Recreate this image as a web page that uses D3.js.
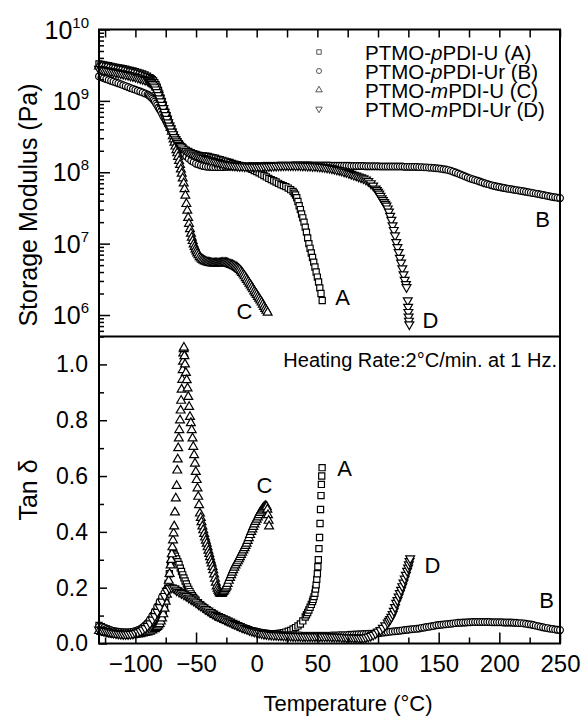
<!DOCTYPE html>
<html>
<head>
<meta charset="utf-8">
<script src="https://cdn.jsdelivr.net/npm/d3@7"></script>
<style>
  body { margin: 0; background: #fff; }
  svg { display: block; font-family: "Liberation Sans", Arial, sans-serif; }
</style>
</head>
<body>
<svg id="chart" width="581" height="716"></svg>
<script>
/* series: [temperature (°C), value] */
var modA = [[-130,3.3e9],[-128,3.25e9],[-126,3.2e9],[-124,3.15e9],[-122,3.1e9],[-120,3.05e9],[-118,3.0e9],[-116,2.95e9],[-114,2.9e9],[-112,2.86e9],[-110,2.82e9],[-108,2.77e9],[-106,2.72e9],[-104,2.67e9],[-102,2.62e9],[-100,2.57e9],[-98,2.51e9],[-96,2.45e9],[-94,2.38e9],[-92,2.31e9],[-90,2.22e9],[-88,2.12e9],[-87,2.05e9],[-86,1.98e9],[-85,1.9e9],[-84,1.8e9],[-83,1.68e9],[-82,1.55e9],[-81,1.4e9],[-80,1.25e9],[-79,1.1e9],[-78,9.8e8],[-77,8.7e8],[-76,7.7e8],[-75,6.8e8],[-74,6.1e8],[-73,5.5e8],[-72,4.9e8],[-71,4.4e8],[-70,4.0e8],[-69,3.6e8],[-68,3.3e8],[-67,3.05e8],[-66,2.85e8],[-65,2.65e8],[-64,2.5e8],[-63,2.38e8],[-62,2.28e8],[-61,2.2e8],[-60,2.12e8],[-58,2.02e8],[-56,1.95e8],[-54,1.88e8],[-52,1.82e8],[-50,1.77e8],[-48,1.74e8],[-46,1.71e8],[-44,1.69e8],[-42,1.68e8],[-40,1.66e8],[-38,1.63e8],[-36,1.6e8],[-34,1.57e8],[-32,1.53e8],[-30,1.5e8],[-28,1.47e8],[-26,1.43e8],[-24,1.4e8],[-22,1.37e8],[-20,1.33e8],[-18,1.3e8],[-16,1.28e8],[-14,1.25e8],[-12,1.23e8],[-10,1.21e8],[-8,1.18e8],[-6,1.15e8],[-4,1.1e8],[-2,1.06e8],[0,1.02e8],[2,9.8e7],[4,9.4e7],[6,9.0e7],[8,8.6e7],[10,8.2e7],[12,7.9e7],[14,7.6e7],[16,7.3e7],[18,7.0e7],[20,6.7e7],[22,6.5e7],[24,6.3e7],[26,6.0e7],[28,5.7e7],[30,5.4e7],[31,5.1e7],[32,4.8e7],[33,4.4e7],[34,3.9e7],[35,3.4e7],[36,3.0e7],[37,2.6e7],[38,2.3e7],[39,2.0e7],[40,1.7e7],[41,1.45e7],[42,1.2e7],[43,1.0e7],[44,8.6e6],[45,7.4e6],[46,6.4e6],[47,5.5e6],[48,4.7e6],[49,4.0e6],[50,3.4e6],[51,2.9e6],[52,2.4e6],[53,2.0e6],[54,1.6e6]];

var modB = [[-130,2.2e9],[-128,2.14e9],[-126,2.08e9],[-124,2.02e9],[-122,1.96e9],[-120,1.91e9],[-118,1.86e9],[-116,1.81e9],[-114,1.76e9],[-112,1.71e9],[-110,1.66e9],[-108,1.61e9],[-106,1.56e9],[-104,1.51e9],[-102,1.47e9],[-100,1.43e9],[-98,1.39e9],[-96,1.35e9],[-94,1.31e9],[-92,1.27e9],[-90,1.23e9],[-89,1.2e9],[-88,1.16e9],[-87,1.12e9],[-86,1.08e9],[-85,1.03e9],[-84,9.8e8],[-83,9.2e8],[-82,8.7e8],[-81,8.1e8],[-80,7.6e8],[-79,7.1e8],[-78,6.6e8],[-77,6.1e8],[-76,5.7e8],[-75,5.3e8],[-74,4.9e8],[-73,4.55e8],[-72,4.2e8],[-71,3.9e8],[-70,3.6e8],[-69,3.35e8],[-68,3.1e8],[-67,2.9e8],[-66,2.7e8],[-65,2.52e8],[-64,2.35e8],[-63,2.2e8],[-62,2.05e8],[-61,1.93e8],[-60,1.82e8],[-58,1.67e8],[-56,1.55e8],[-54,1.45e8],[-52,1.38e8],[-50,1.32e8],[-48,1.28e8],[-46,1.25e8],[-44,1.22e8],[-42,1.2e8],[-40,1.19e8],[-38,1.19e8],[-36,1.18e8],[-34,1.18e8],[-32,1.18e8],[-30,1.18e8],[-28,1.18e8],[-26,1.19e8],[-24,1.19e8],[-22,1.2e8],[-20,1.2e8],[-18,1.2e8],[-16,1.2e8],[-14,1.21e8],[-12,1.21e8],[-10,1.21e8],[-8,1.21e8],[-6,1.22e8],[-4,1.22e8],[-2,1.22e8],[0,1.22e8],[2,1.22e8],[4,1.22e8],[6,1.23e8],[8,1.23e8],[10,1.23e8],[12,1.23e8],[14,1.23e8],[16,1.23e8],[18,1.24e8],[20,1.24e8],[22,1.24e8],[24,1.24e8],[26,1.24e8],[28,1.24e8],[30,1.25e8],[32,1.25e8],[34,1.25e8],[36,1.25e8],[38,1.25e8],[40,1.25e8],[42,1.25e8],[44,1.25e8],[46,1.24e8],[48,1.24e8],[50,1.24e8],[52,1.24e8],[54,1.24e8],[56,1.24e8],[58,1.24e8],[60,1.24e8],[62,1.23e8],[64,1.23e8],[66,1.23e8],[68,1.23e8],[70,1.23e8],[72,1.23e8],[74,1.23e8],[76,1.23e8],[78,1.22e8],[80,1.22e8],[82,1.22e8],[84,1.22e8],[86,1.22e8],[88,1.22e8],[90,1.21e8],[92,1.21e8],[94,1.21e8],[96,1.21e8],[98,1.21e8],[100,1.21e8],[102,1.2e8],[104,1.2e8],[106,1.2e8],[108,1.2e8],[110,1.2e8],[112,1.2e8],[114,1.2e8],[116,1.2e8],[118,1.2e8],[120,1.2e8],[122,1.19e8],[124,1.19e8],[126,1.19e8],[128,1.19e8],[130,1.19e8],[132,1.19e8],[134,1.18e8],[136,1.18e8],[138,1.17e8],[140,1.17e8],[142,1.16e8],[144,1.16e8],[146,1.15e8],[148,1.14e8],[150,1.13e8],[152,1.12e8],[154,1.1e8],[156,1.09e8],[158,1.07e8],[160,1.05e8],[162,1.02e8],[164,9.9e7],[166,9.6e7],[168,9.3e7],[170,9.0e7],[172,8.7e7],[174,8.45e7],[176,8.2e7],[178,8.0e7],[180,7.8e7],[182,7.6e7],[184,7.4e7],[186,7.2e7],[188,7.0e7],[190,6.85e7],[192,6.7e7],[194,6.55e7],[196,6.4e7],[198,6.3e7],[200,6.2e7],[202,6.1e7],[204,6.0e7],[206,5.92e7],[208,5.85e7],[210,5.78e7],[212,5.7e7],[214,5.62e7],[216,5.55e7],[218,5.48e7],[220,5.4e7],[222,5.32e7],[224,5.25e7],[226,5.18e7],[228,5.1e7],[230,5.02e7],[232,4.95e7],[234,4.88e7],[236,4.8e7],[238,4.72e7],[240,4.65e7],[242,4.58e7],[244,4.5e7],[246,4.45e7],[248,4.4e7],[250,4.35e7]];

var modC = [[-130,3.05e9],[-128,3.0e9],[-126,2.96e9],[-124,2.92e9],[-122,2.87e9],[-120,2.82e9],[-118,2.78e9],[-116,2.73e9],[-114,2.69e9],[-112,2.65e9],[-110,2.6e9],[-108,2.55e9],[-106,2.5e9],[-104,2.45e9],[-102,2.41e9],[-100,2.36e9],[-98,2.3e9],[-96,2.24e9],[-94,2.18e9],[-92,2.11e9],[-90,2.04e9],[-88,1.96e9],[-87,1.9e9],[-86,1.84e9],[-85,1.76e9],[-84,1.66e9],[-83,1.55e9],[-82,1.42e9],[-81,1.29e9],[-80,1.16e9],[-79,1.05e9],[-78,9.4e8],[-77,8.5e8],[-76,7.6e8],[-75,6.8e8],[-74,6.1e8],[-73,5.4e8],[-72,4.8e8],[-71,4.2e8],[-70,3.7e8],[-69.2,3.2e8],[-68.5,2.9e8],[-67.8,2.6e8],[-67,2.3e8],[-66.2,2.05e8],[-65.5,1.85e8],[-64.8,1.65e8],[-64,1.45e8],[-63.2,1.27e8],[-62.5,1.1e8],[-61.8,9.6e7],[-61,8.2e7],[-60.2,7.0e7],[-59.5,5.8e7],[-58.8,4.7e7],[-58,3.6e7],[-57.2,2.9e7],[-56.5,2.3e7],[-55.8,1.9e7],[-55,1.6e7],[-54.2,1.38e7],[-53.5,1.22e7],[-52.8,1.09e7],[-52,9.8e6],[-51.2,9.0e6],[-50.5,8.3e6],[-49.7,7.8e6],[-49,7.3e6],[-48,6.9e6],[-47,6.5e6],[-46,6.2e6],[-45,6.0e6],[-44,5.85e6],[-43,5.7e6],[-42,5.6e6],[-41,5.5e6],[-40,5.45e6],[-39,5.4e6],[-38,5.35e6],[-37,5.32e6],[-36,5.3e6],[-35,5.3e6],[-34,5.3e6],[-33,5.3e6],[-32,5.3e6],[-31,5.32e6],[-30,5.33e6],[-29,5.35e6],[-28,5.38e6],[-27,5.4e6],[-26,5.4e6],[-25,5.35e6],[-24,5.3e6],[-23,5.2e6],[-22,5.12e6],[-21,5.05e6],[-20,5.0e6],[-19,4.9e6],[-18,4.8e6],[-17,4.7e6],[-16,4.57e6],[-15,4.44e6],[-14,4.3e6],[-13,4.1e6],[-12,3.9e6],[-11,3.7e6],[-10,3.5e6],[-9,3.3e6],[-8,3.1e6],[-7,2.93e6],[-6,2.76e6],[-5,2.6e6],[-4,2.45e6],[-3,2.3e6],[-2,2.15e6],[-1,2.03e6],[0,1.92e6],[1,1.8e6],[2,1.7e6],[3,1.6e6],[4,1.5e6],[5,1.4e6],[6,1.3e6],[7,1.22e6],[8,1.15e6],[9,1.08e6]];

var modD = [[-130,2.8e9],[-128,2.75e9],[-126,2.7e9],[-124,2.66e9],[-122,2.62e9],[-120,2.58e9],[-118,2.54e9],[-116,2.5e9],[-114,2.46e9],[-112,2.42e9],[-110,2.38e9],[-108,2.34e9],[-106,2.3e9],[-104,2.25e9],[-102,2.21e9],[-100,2.17e9],[-98,2.12e9],[-96,2.07e9],[-94,2.02e9],[-92,1.97e9],[-90,1.92e9],[-89,1.88e9],[-88,1.84e9],[-87,1.79e9],[-86,1.72e9],[-85,1.64e9],[-84,1.55e9],[-83,1.44e9],[-82,1.32e9],[-81,1.2e9],[-80,1.08e9],[-79,9.8e8],[-78,8.8e8],[-77,7.9e8],[-76,7.0e8],[-75,6.3e8],[-74,5.6e8],[-73,5.0e8],[-72,4.5e8],[-71,4.1e8],[-70,3.7e8],[-69,3.4e8],[-68,3.1e8],[-67,2.88e8],[-66,2.7e8],[-65,2.55e8],[-64,2.42e8],[-63,2.32e8],[-62,2.22e8],[-60,2.08e8],[-58,1.98e8],[-56,1.9e8],[-54,1.83e8],[-52,1.77e8],[-50,1.72e8],[-48,1.67e8],[-46,1.62e8],[-44,1.58e8],[-42,1.54e8],[-40,1.5e8],[-38,1.47e8],[-36,1.44e8],[-34,1.41e8],[-32,1.38e8],[-30,1.35e8],[-28,1.32e8],[-26,1.3e8],[-24,1.28e8],[-22,1.26e8],[-20,1.25e8],[-18,1.24e8],[-16,1.23e8],[-14,1.22e8],[-12,1.22e8],[-10,1.21e8],[-8,1.21e8],[-6,1.2e8],[-4,1.2e8],[-2,1.2e8],[0,1.2e8],[2,1.2e8],[4,1.2e8],[6,1.21e8],[8,1.21e8],[10,1.22e8],[12,1.22e8],[14,1.23e8],[16,1.23e8],[18,1.24e8],[20,1.24e8],[22,1.25e8],[24,1.25e8],[26,1.25e8],[28,1.25e8],[30,1.25e8],[32,1.25e8],[34,1.25e8],[36,1.25e8],[38,1.24e8],[40,1.24e8],[42,1.23e8],[44,1.23e8],[46,1.22e8],[48,1.22e8],[50,1.21e8],[52,1.2e8],[54,1.19e8],[56,1.18e8],[58,1.16e8],[60,1.15e8],[62,1.13e8],[64,1.11e8],[66,1.09e8],[68,1.07e8],[70,1.05e8],[72,1.02e8],[74,1.0e8],[76,9.7e7],[78,9.45e7],[80,9.2e7],[82,8.95e7],[84,8.7e7],[86,8.45e7],[88,8.2e7],[90,7.9e7],[92,7.5e7],[94,7.0e7],[96,6.5e7],[98,5.9e7],[99,5.6e7],[100,5.3e7],[101,5.0e7],[102,4.65e7],[103,4.3e7],[104,4.05e7],[105,3.8e7],[106,3.6e7],[107,3.4e7],[108,3.1e7],[109,2.8e7],[110,2.45e7],[111,2.15e7],[112,1.8e7],[113,1.55e7],[114,1.3e7],[115,1.05e7],[116,8.9e6],[117,7.6e6],[118,6.3e6],[119,5.4e6],[120,4.5e6],[121,3.7e6],[122,3.1e6],[123,2.7e6],[123.5,2.45e6],[124.5,1.6e6],[124.8,1.3e6],[125,1.1e6],[125.2,9.5e5],[125.5,8.3e5],[125.8,7.4e5]];

var tanA = [[-130,0.065],[-128,0.06],[-126,0.056],[-124,0.052],[-122,0.049],[-120,0.046],[-118,0.043],[-116,0.041],[-114,0.039],[-112,0.038],[-110,0.037],[-108,0.036],[-106,0.035],[-104,0.035],[-102,0.035],[-100,0.036],[-98,0.037],[-96,0.038],[-94,0.039],[-92,0.041],[-90,0.043],[-88,0.046],[-86,0.05],[-84,0.055],[-82,0.062],[-81,0.066],[-80,0.072],[-79,0.082],[-78,0.095],[-77,0.112],[-76,0.135],[-75,0.16],[-74,0.19],[-73,0.215],[-72,0.25],[-71,0.285],[-70,0.31],[-69,0.322],[-68,0.32],[-67,0.313],[-66,0.303],[-65,0.293],[-64,0.283],[-63,0.27],[-62,0.258],[-61,0.246],[-60,0.235],[-59,0.224],[-58,0.213],[-57,0.203],[-56,0.194],[-55,0.186],[-54,0.178],[-53,0.171],[-52,0.165],[-51,0.16],[-50,0.155],[-48,0.146],[-46,0.138],[-44,0.13],[-42,0.123],[-40,0.117],[-38,0.111],[-36,0.105],[-34,0.1],[-32,0.095],[-30,0.091],[-28,0.087],[-26,0.083],[-24,0.079],[-22,0.075],[-20,0.071],[-18,0.067],[-16,0.063],[-14,0.06],[-12,0.056],[-10,0.053],[-8,0.05],[-6,0.047],[-4,0.045],[-2,0.043],[0,0.041],[2,0.04],[4,0.038],[6,0.037],[8,0.036],[10,0.035],[12,0.035],[14,0.035],[16,0.035],[18,0.036],[20,0.037],[22,0.039],[24,0.041],[26,0.044],[28,0.047],[30,0.052],[32,0.057],[34,0.063],[36,0.07],[38,0.081],[40,0.095],[41,0.103],[42,0.111],[43,0.12],[44,0.13],[45,0.14],[46,0.15],[46.5,0.158],[47.3,0.168],[48,0.18],[48.5,0.195],[49,0.21],[49.5,0.23],[50,0.25],[50.4,0.275],[50.8,0.3],[51.3,0.34],[51.8,0.38],[52.2,0.43],[52.6,0.48],[53,0.53],[53.3,0.57],[53.6,0.6],[53.9,0.63]];

var tanB = [[-130,0.06],[-128,0.058],[-126,0.055],[-124,0.052],[-122,0.05],[-120,0.047],[-118,0.045],[-116,0.043],[-114,0.042],[-112,0.041],[-110,0.04],[-108,0.04],[-106,0.04],[-104,0.041],[-102,0.042],[-100,0.045],[-98,0.048],[-96,0.052],[-94,0.058],[-92,0.065],[-90,0.074],[-88,0.086],[-86,0.1],[-84,0.116],[-82,0.133],[-80,0.15],[-78,0.167],[-76,0.182],[-74,0.195],[-72,0.2],[-70,0.2],[-68,0.197],[-66,0.193],[-64,0.19],[-62,0.184],[-60,0.177],[-58,0.172],[-56,0.166],[-54,0.16],[-52,0.154],[-50,0.148],[-48,0.142],[-46,0.136],[-44,0.13],[-42,0.124],[-40,0.118],[-38,0.113],[-36,0.108],[-34,0.103],[-32,0.098],[-30,0.094],[-28,0.09],[-26,0.086],[-24,0.082],[-22,0.078],[-20,0.074],[-18,0.07],[-16,0.066],[-14,0.062],[-12,0.058],[-10,0.055],[-8,0.052],[-6,0.049],[-4,0.046],[-2,0.044],[0,0.042],[2,0.04],[4,0.038],[6,0.036],[8,0.035],[10,0.034],[12,0.033],[14,0.032],[16,0.032],[18,0.031],[20,0.031],[22,0.03],[24,0.03],[26,0.03],[28,0.03],[30,0.029],[32,0.029],[34,0.029],[36,0.029],[38,0.028],[40,0.028],[42,0.028],[44,0.028],[46,0.028],[48,0.028],[50,0.028],[52,0.028],[54,0.028],[56,0.028],[58,0.028],[60,0.028],[62,0.029],[64,0.029],[66,0.029],[68,0.03],[70,0.03],[72,0.03],[74,0.03],[76,0.031],[78,0.031],[80,0.032],[82,0.032],[84,0.033],[86,0.033],[88,0.034],[90,0.034],[92,0.035],[94,0.035],[96,0.036],[98,0.036],[100,0.037],[102,0.038],[104,0.039],[106,0.04],[108,0.041],[110,0.042],[112,0.043],[114,0.044],[116,0.045],[118,0.046],[120,0.047],[122,0.048],[124,0.049],[126,0.05],[128,0.051],[130,0.052],[132,0.053],[134,0.054],[136,0.056],[138,0.057],[140,0.059],[142,0.06],[144,0.062],[146,0.063],[148,0.065],[150,0.066],[152,0.067],[154,0.068],[156,0.069],[158,0.07],[160,0.071],[162,0.072],[164,0.073],[166,0.074],[168,0.074],[170,0.075],[172,0.075],[174,0.076],[176,0.076],[178,0.077],[180,0.077],[182,0.077],[184,0.077],[186,0.077],[188,0.077],[190,0.077],[192,0.077],[194,0.076],[196,0.076],[198,0.076],[200,0.076],[202,0.076],[204,0.075],[206,0.075],[208,0.075],[210,0.075],[212,0.074],[214,0.074],[216,0.073],[218,0.073],[220,0.072],[222,0.071],[224,0.069],[226,0.068],[228,0.066],[230,0.064],[232,0.062],[234,0.06],[236,0.058],[238,0.056],[240,0.055],[242,0.053],[244,0.052],[246,0.05],[248,0.049],[250,0.048]];

var tanC = [[-130,0.045],[-128,0.042],[-126,0.04],[-124,0.038],[-122,0.036],[-120,0.034],[-118,0.033],[-116,0.032],[-114,0.031],[-112,0.03],[-110,0.03],[-108,0.03],[-106,0.03],[-104,0.03],[-102,0.031],[-100,0.032],[-98,0.033],[-96,0.034],[-94,0.036],[-92,0.038],[-90,0.04],[-88,0.043],[-86,0.047],[-84,0.052],[-83,0.056],[-82,0.06],[-81,0.065],[-80,0.07],[-79,0.079],[-78,0.09],[-77,0.105],[-76,0.125],[-75,0.15],[-74,0.175],[-73.2,0.2],[-72.5,0.225],[-71.8,0.25],[-71,0.28],[-70.5,0.3],[-70,0.32],[-69.5,0.345],[-69,0.37],[-68.5,0.395],[-68,0.42],[-67.4,0.47],[-66.7,0.52],[-66,0.565],[-65.5,0.62],[-65.1,0.66],[-64.7,0.7],[-64.2,0.735],[-63.8,0.765],[-63.2,0.8],[-62.7,0.835],[-62.3,0.87],[-61.9,0.91],[-61.4,0.945],[-61,0.98],[-60.7,1.01],[-60.5,1.04],[-60.2,1.055],[-60,1.06],[-59.6,1.03],[-59.1,1.0],[-58.4,0.97],[-57.7,0.944],[-57,0.914],[-56.4,0.884],[-55.7,0.848],[-55,0.812],[-54.3,0.79],[-53.6,0.765],[-52.9,0.735],[-52.3,0.705],[-51.6,0.675],[-50.9,0.645],[-50.2,0.615],[-49.5,0.586],[-48.8,0.556],[-48.2,0.526],[-47.5,0.496],[-46.8,0.466],[-46.1,0.45],[-45.5,0.435],[-44.8,0.42],[-44.1,0.406],[-43.3,0.393],[-42.6,0.38],[-41.9,0.369],[-41.2,0.358],[-40.5,0.345],[-39.8,0.333],[-39.1,0.321],[-38.5,0.31],[-37.8,0.298],[-37.1,0.287],[-36.4,0.275],[-35.8,0.263],[-35.1,0.248],[-34.4,0.233],[-33.7,0.218],[-33,0.205],[-32.3,0.197],[-31.6,0.19],[-30.9,0.184],[-30.3,0.18],[-29.6,0.178],[-29,0.178],[-28.3,0.181],[-27.5,0.185],[-26.8,0.19],[-26,0.195],[-25.4,0.2],[-24.8,0.205],[-24,0.214],[-23,0.225],[-22,0.235],[-21,0.245],[-20.2,0.254],[-19.3,0.263],[-18.4,0.272],[-17.5,0.28],[-16.5,0.288],[-15.5,0.295],[-14.6,0.302],[-13.8,0.31],[-12.9,0.318],[-12,0.326],[-11,0.334],[-10,0.342],[-9.2,0.35],[-8.3,0.358],[-7.4,0.368],[-6.5,0.378],[-5.5,0.389],[-4.5,0.4],[-3.6,0.409],[-2.8,0.418],[-1.9,0.427],[-1,0.436],[0,0.444],[1,0.452],[1.8,0.46],[2.7,0.468],[3.6,0.474],[4.5,0.48],[5.2,0.484],[6,0.488],[6.6,0.49],[7.2,0.492],[7.7,0.491],[8.2,0.49],[8.8,0.48],[9.3,0.46],[9.8,0.44],[10.2,0.42]];

var tanD = [[-130,0.05],[-128,0.048],[-126,0.046],[-124,0.044],[-122,0.042],[-120,0.04],[-118,0.038],[-116,0.036],[-114,0.035],[-112,0.034],[-110,0.033],[-108,0.033],[-106,0.033],[-104,0.034],[-102,0.035],[-100,0.037],[-98,0.04],[-96,0.044],[-94,0.049],[-92,0.055],[-90,0.063],[-88,0.072],[-86,0.085],[-84,0.098],[-82,0.113],[-80,0.13],[-78,0.15],[-76,0.17],[-74,0.188],[-72,0.198],[-70,0.2],[-68,0.197],[-66,0.19],[-64,0.185],[-62,0.18],[-60,0.175],[-58,0.17],[-56,0.164],[-54,0.158],[-52,0.153],[-50,0.147],[-48,0.14],[-46,0.135],[-44,0.129],[-42,0.123],[-40,0.118],[-38,0.112],[-36,0.107],[-34,0.102],[-32,0.098],[-30,0.094],[-28,0.09],[-26,0.086],[-24,0.082],[-22,0.078],[-20,0.074],[-18,0.07],[-16,0.066],[-14,0.062],[-12,0.058],[-10,0.055],[-8,0.051],[-6,0.048],[-4,0.045],[-2,0.042],[0,0.04],[2,0.038],[4,0.036],[6,0.034],[8,0.033],[10,0.032],[12,0.031],[14,0.03],[16,0.03],[18,0.029],[20,0.029],[22,0.028],[24,0.028],[26,0.027],[28,0.027],[30,0.026],[32,0.026],[34,0.026],[36,0.026],[38,0.025],[40,0.025],[42,0.025],[44,0.025],[46,0.025],[48,0.025],[50,0.025],[52,0.025],[54,0.025],[56,0.025],[58,0.025],[60,0.025],[62,0.024],[64,0.024],[66,0.024],[68,0.024],[70,0.023],[72,0.023],[74,0.022],[76,0.022],[78,0.022],[80,0.021],[82,0.021],[84,0.02],[86,0.02],[88,0.02],[90,0.022],[92,0.024],[94,0.027],[96,0.031],[98,0.036],[100,0.042],[102,0.048],[104,0.056],[106,0.065],[108,0.075],[109,0.081],[110,0.087],[111,0.095],[112,0.105],[113,0.117],[114,0.13],[115,0.145],[116,0.155],[117,0.168],[118,0.18],[119,0.192],[120,0.205],[121,0.218],[122,0.232],[123,0.246],[124,0.26],[124.8,0.272],[125.4,0.283],[126,0.295],[126.5,0.305]];

var seriesKeys = ["A", "B", "C", "D"];
var legendLabels = [
  ["PTMO-", "p", "PDI-U (A)"],
  ["PTMO-", "p", "PDI-Ur (B)"],
  ["PTMO-", "m", "PDI-U (C)"],
  ["PTMO-", "m", "PDI-Ur (D)"]
];
var tempTicksMajor = [-100, -50, 0, 50, 100, 150, 200, 250];
var tempTicksMinor = [-125, -75, -25, 25, 75, 125, 175, 225];
var modDecades = [1e6, 1e7, 1e8, 1e9, 1e10];
var modExponents = ["6", "7", "8", "9", "10"];
var tanTicksMajor = [0, 0.2, 0.4, 0.6, 0.8, 1.0];
var tanTicksMinor = [0.1, 0.3, 0.5, 0.7, 0.9];

var svg = d3.select("#chart");

var x = d3.scaleLinear().domain([-130, 250]).range([99, 560]);
var yMod = d3.scaleLog().domain([5e5, 1e10]).range([336.5, 29.5]);
var yTan = d3.scaleLinear().domain([0, 1.1]).range([643.5, 336.5]);

var shapes = {
  A: d3.symbol().type(d3.symbolSquare).size(38)(),
  B: d3.symbol().type(d3.symbolCircle).size(36)(),
  C: d3.symbol().type(d3.symbolTriangle).size(34)(),
  D: d3.symbol().type(d3.symbolTriangle).size(34)()
};
var legendShapes = {
  A: d3.symbol().type(d3.symbolSquare).size(20)(),
  B: d3.symbol().type(d3.symbolCircle).size(20)(),
  C: d3.symbol().type(d3.symbolTriangle).size(18)(),
  D: d3.symbol().type(d3.symbolTriangle).size(18)()
};

var drawSeries = (data, yScale, key) => {
  svg.append("g")
    .selectAll("path")
    .data(data)
    .enter()
    .append("path")
    .attr("d", shapes[key])
    .attr("transform", (d) => {
      return "translate(" + x(d[0]) + "," + yScale(d[1]) + ")" + (key === "D" ? " rotate(180)" : "");
    })
    .attr("fill", "white")
    .attr("stroke", "#000")
    .attr("stroke-width", 1.2);
};

var styleAxis = (g) => {
  g.select(".domain").remove();
  g.selectAll(".tick line").attr("stroke", "#000").attr("stroke-width", 1.5);
  g.selectAll(".tick text").attr("fill", "#000");
};

/* ---- top panel: storage modulus ---- */
drawSeries(modA, yMod, "A");
drawSeries(modB, yMod, "B");
drawSeries(modC, yMod, "C");
drawSeries(modD, yMod, "D");

var modMinor = [];
[1e5, 1e6, 1e7, 1e8, 1e9].forEach((dec) => {
  [2, 3, 4, 5, 6, 7, 8, 9].forEach((m) => {
    var v = dec * m;
    if (v >= 5e5 && v < 1e10) modMinor.push(v);
  });
});

svg.append("g").attr("transform", "translate(99,0)")
  .call(d3.axisLeft(yMod).tickValues(modDecades).tickSize(-11).tickFormat(""))
  .call(styleAxis);
svg.append("g").attr("transform", "translate(99,0)")
  .call(d3.axisLeft(yMod).tickValues(modMinor).tickSize(-5).tickFormat(""))
  .call(styleAxis);
svg.append("g").attr("transform", "translate(0,29.5)")
  .call(d3.axisTop(x).tickValues(tempTicksMinor.concat(tempTicksMajor)).tickSize(-8).tickFormat(""))
  .call(styleAxis);

var modLabels = svg.append("g")
  .selectAll("text")
  .data(modDecades)
  .enter()
  .append("text")
  .attr("x", 89)
  .attr("y", (d) => yMod(d) + 9)
  .attr("text-anchor", "end")
  .attr("font-size", 25);
modLabels.append("tspan").text("10");
modLabels.append("tspan")
  .attr("font-size", 15)
  .attr("dy", -11)
  .text((d, i) => modExponents[i]);

svg.append("text")
  .attr("transform", "translate(37,205) rotate(-90)")
  .attr("text-anchor", "middle")
  .attr("font-size", 25)
  .text("Storage Modulus (Pa)");

/* legend */
var legend = svg.append("g");
seriesKeys.forEach((key, i) => {
  var yRow = 60 + i * 19;
  legend.append("path")
    .attr("d", legendShapes[key])
    .attr("transform", "translate(319," + (yRow - 8) + ")" + (key === "D" ? " rotate(180)" : ""))
    .attr("fill", "white")
    .attr("stroke", "#444")
    .attr("stroke-width", 0.9);
  var t = legend.append("text")
    .attr("x", 365)
    .attr("y", yRow)
    .attr("font-size", 20.5);
  t.append("tspan").text(legendLabels[i][0]);
  t.append("tspan").attr("font-style", "italic").text(legendLabels[i][1]);
  t.append("tspan").text(legendLabels[i][2]);
});

/* ---- bottom panel: tan delta ---- */
drawSeries(tanA, yTan, "A");
drawSeries(tanB, yTan, "B");
drawSeries(tanC, yTan, "C");
drawSeries(tanD, yTan, "D");

svg.append("g").attr("transform", "translate(99,0)")
  .call(d3.axisLeft(yTan).tickValues(tanTicksMajor).tickSize(-8).tickPadding(11).tickFormat(d3.format(".1f")))
  .call(styleAxis)
  .call((g) => g.selectAll(".tick text").attr("font-size", 23).attr("font-family", "Liberation Sans, Arial, sans-serif"));
svg.append("g").attr("transform", "translate(99,0)")
  .call(d3.axisLeft(yTan).tickValues(tanTicksMinor).tickSize(-5).tickFormat(""))
  .call(styleAxis);

svg.append("g").attr("transform", "translate(0,643.5)")
  .call(d3.axisBottom(x).tickValues(tempTicksMajor).tickSize(-11).tickPadding(11.5).tickFormat(d3.format("d")))
  .call(styleAxis)
  .call((g) => g.selectAll(".tick text").attr("font-size", 24).attr("font-family", "Liberation Sans, Arial, sans-serif"));
svg.append("g").attr("transform", "translate(0,643.5)")
  .call(d3.axisBottom(x).tickValues(tempTicksMinor).tickSize(-6).tickFormat(""))
  .call(styleAxis);

svg.append("text")
  .attr("transform", "translate(37,490) rotate(-90)")
  .attr("text-anchor", "middle")
  .attr("font-size", 25)
  .text("Tan \u03b4");

svg.append("text")
  .attr("x", 348)
  .attr("y", 711)
  .attr("text-anchor", "middle")
  .attr("font-size", 22)
  .text("Temperature (\u00b0C)");

svg.append("text")
  .attr("x", 557)
  .attr("y", 367)
  .attr("text-anchor", "end")
  .attr("font-size", 20)
  .text("Heating Rate:2\u00b0C/min. at 1 Hz.");

/* curve letters */
var curveLabels = [
  ["C", 244.5, 319], ["A", 342.5, 305], ["D", 430.5, 328], ["B", 542.5, 227],
  ["C", 264.5, 493], ["A", 344.5, 476], ["D", 432.5, 573], ["B", 546.5, 608]
];
svg.append("g")
  .selectAll("text")
  .data(curveLabels)
  .enter()
  .append("text")
  .attr("x", (d) => d[1])
  .attr("y", (d) => d[2])
  .attr("text-anchor", "middle")
  .attr("font-size", 22)
  .text((d) => d[0]);

/* frame */
svg.append("rect")
  .attr("x", 99).attr("y", 29.5)
  .attr("width", 461).attr("height", 614)
  .attr("fill", "none").attr("stroke", "#000").attr("stroke-width", 2);
svg.append("line")
  .attr("x1", 99).attr("x2", 560)
  .attr("y1", 336.5).attr("y2", 336.5)
  .attr("stroke", "#000").attr("stroke-width", 2);
</script>
</body>
</html>
